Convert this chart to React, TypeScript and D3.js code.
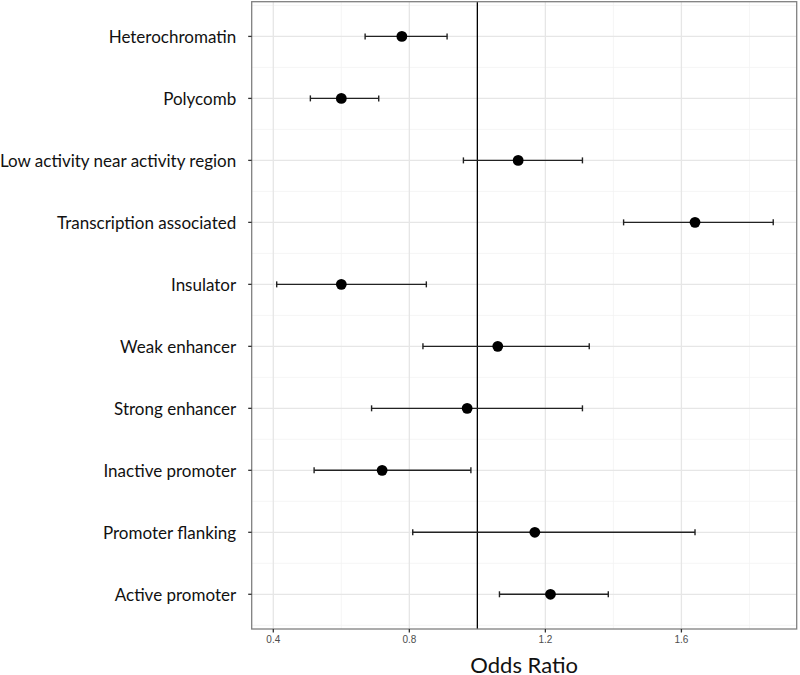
import React from "react";
import * as d3 from "d3";

const categories = [
  "Heterochromatin",
  "Polycomb",
  "Low activity near activity region",
  "Transcription associated",
  "Insulator",
  "Weak enhancer",
  "Strong enhancer",
  "Inactive promoter",
  "Promoter flanking",
  "Active promoter",
];
const oddsRatio = [0.778, 0.6, 1.12, 1.64, 0.6, 1.06, 0.97, 0.72, 1.169, 1.215];
const lowerCI = [0.67, 0.509, 0.959, 1.43, 0.41, 0.84, 0.689, 0.52, 0.81, 1.065];
const upperCI = [0.911, 0.71, 1.309, 1.87, 0.85, 1.329, 1.309, 0.981, 1.64, 1.385];
const xMajorTicks = [0.4, 0.8, 1.2, 1.6];
const xMinorTicks = [0.6, 1.0, 1.4, 1.8];
const xTickLabels = ["0.4", "0.8", "1.2", "1.6"];
const refValue = 1;
const xTitle = "Odds Ratio";

export default function App() {
  const W = 800, H = 675;
  const left = 251.7, right = 796.7, top = 1.7, bottom = 629;
  const x = d3.scaleLinear().domain([0.3365, 1.939]).range([left, right]);
  const y = d3.scalePoint<string>().domain(categories).range([top, bottom]).padding(0.56);
  const step = y.step();
  const minorY = d3.range(categories.length + 1).map((i) => (y(categories[0]) as number) - step / 2 + i * step);
  const cap = 5;
  return (
    <svg width={W} height={H} style={{ position: "absolute", left: 0, top: 0, background: "#fff" }}>
      <rect x={0} y={0} width={W} height={H} fill="#fff" />
      <g>
        {minorY.map((v, i) => (
          <line key={"my" + i} x1={left} x2={right} y1={v} y2={v} stroke="#f2f2f2" strokeWidth={0.8} />
        ))}
        {xMinorTicks.map((t) => (
          <line key={"mx" + t} x1={x(t)} x2={x(t)} y1={top} y2={bottom} stroke="#f2f2f2" strokeWidth={0.8} />
        ))}
        {categories.map((c) => (
          <line key={"gy" + c} x1={left} x2={right} y1={y(c)} y2={y(c)} stroke="#e6e6e6" strokeWidth={1.3} />
        ))}
        {xMajorTicks.map((t) => (
          <line key={"gx" + t} x1={x(t)} x2={x(t)} y1={top} y2={bottom} stroke="#e6e6e6" strokeWidth={1.3} />
        ))}
      </g>
      <line x1={x(refValue)} x2={x(refValue)} y1={top} y2={bottom} stroke="#000" strokeWidth={1.3} />
      {categories.map((c, i) => {
        const cy = y(c) as number;
        return (
          <g key={"e" + c}>
            <line x1={x(lowerCI[i])} x2={x(upperCI[i])} y1={cy} y2={cy} stroke="#222" strokeWidth={1.4} />
            <line x1={x(lowerCI[i])} x2={x(lowerCI[i])} y1={cy - cap / 2 - 0.5} y2={cy + cap / 2 + 0.5} stroke="#222" strokeWidth={1.4} />
            <line x1={x(upperCI[i])} x2={x(upperCI[i])} y1={cy - cap / 2 - 0.5} y2={cy + cap / 2 + 0.5} stroke="#222" strokeWidth={1.4} />
            <circle cx={x(oddsRatio[i])} cy={cy} r={5.4} fill="#000" />
          </g>
        );
      })}
      <rect x={left} y={top} width={right - left} height={bottom - top} fill="none" stroke="#808080" strokeWidth={1.3} />
      {categories.map((c) => {
        const cy = y(c) as number;
        return (
          <g key={"yl" + c}>
            <line x1={left - 3.5} x2={left} y1={cy} y2={cy} stroke="#333" strokeWidth={1.3} />
            <text x={left - 15.5} y={cy} textAnchor="end" dominantBaseline="central" fontFamily="Lato, 'Open Sans', sans-serif" fontSize={17} fill="#111">
              {c}
            </text>
          </g>
        );
      })}
      {xMajorTicks.map((t, i) => (
        <g key={"xl" + t}>
          <line x1={x(t)} x2={x(t)} y1={bottom} y2={bottom + 3.5} stroke="#333" strokeWidth={1.3} />
          <text x={x(t)} y={bottom + 10} textAnchor="middle" dominantBaseline="central" fontFamily="'Liberation Sans', Arial, sans-serif" fontSize={10} fill="#4d4d4d">
            {xTickLabels[i]}
          </text>
        </g>
      ))}
      <text x={(left + right) / 2} y={664} textAnchor="middle" dominantBaseline="central" fontFamily="Lato, 'Open Sans', sans-serif" fontSize={22} fill="#111">
        {xTitle}
      </text>
    </svg>
  );
}
